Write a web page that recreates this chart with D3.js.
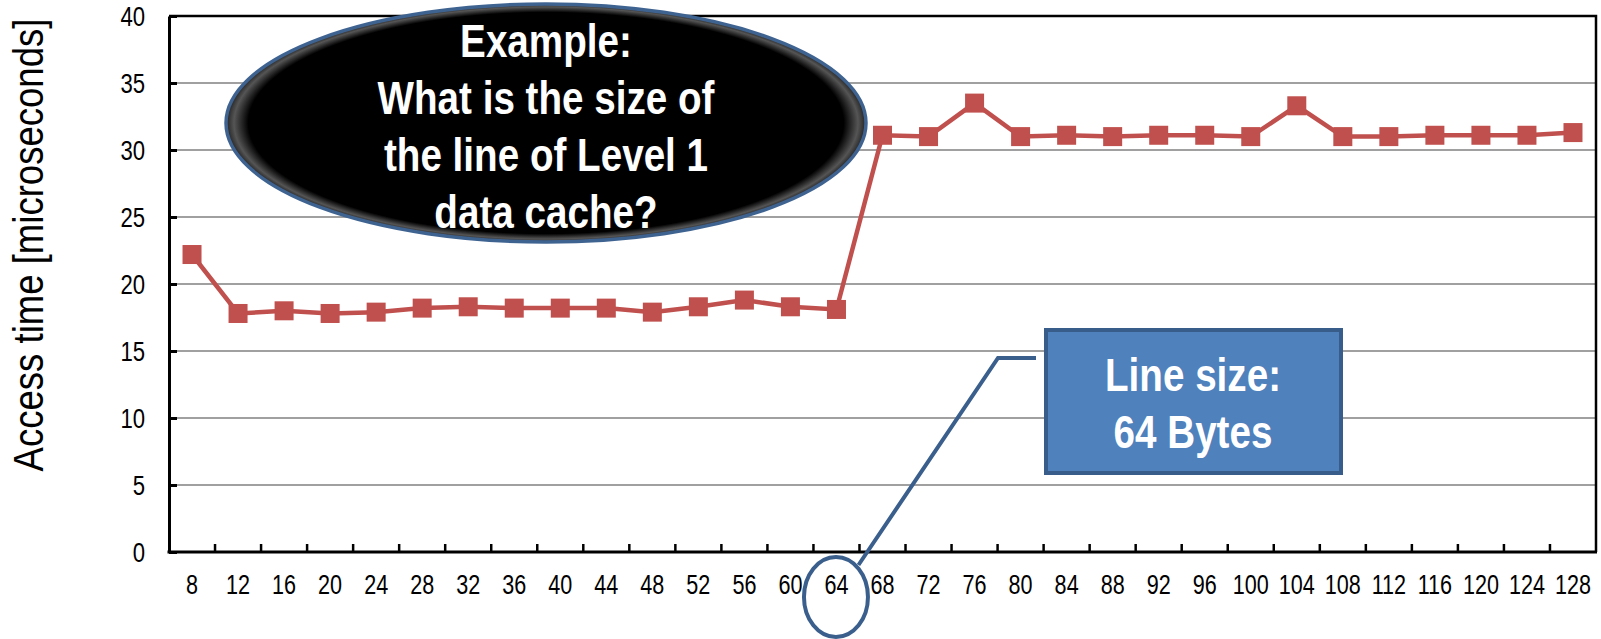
<!DOCTYPE html>
<html>
<head>
<meta charset="utf-8">
<script src="https://cdn.jsdelivr.net/npm/d3@7"></script>
<style>
  body{margin:0;background:#fff;}
  svg{display:block;}
</style>
</head>
<body>
<div id="container"></div>
<script>
let w = 1601;
let h = 639;

// line size in bytes (x categories)
let lineSizes = ["8","12","16","20","24","28","32","36","40","44","48","52","56","60","64",
                 "68","72","76","80","84","88","92","96","100","104","108","112","116","120","124","128"];
// access time in microseconds
let accessTimes = [22.2,17.8,18.0,17.8,17.9,18.2,18.3,18.2,18.2,18.2,17.9,18.3,18.8,18.3,18.1,
                   31.1,31.0,33.5,31.0,31.1,31.0,31.1,31.1,31.0,33.3,31.0,31.0,31.1,31.1,31.1,31.3];
let yTicks = [0,5,10,15,20,25,30,35,40];

let yTitle = "Access time [microseconds]";
let questionLines = ["Example:","What is the size of","the line of Level 1","data cache?"];
let answerLines = ["Line size:","64 Bytes"];
let answerCategory = "64";

// no narrow font installed, so condense Liberation Sans with a scaleX
let font = "'Liberation Sans',Arial,sans-serif";

// move x/y of a text into a transform and squeeze it horizontally
function squeeze(sel, sx){
  sel.each(function(){
    let t = d3.select(this);
    let x = +t.attr("x") || 0;
    let y = +t.attr("y") || 0;
    t.attr("x",0).attr("y",0)
     .attr("transform","translate("+x+","+y+") scale("+sx+",1)");
  });
}

let viz = d3.select("#container")
                .append("svg")
                    .attr("width",w)
                    .attr("height",h)
                    .style("background-color","white")
;

let plotLeft = 169;
let plotRight = 1596;
let plotTop = 16;
let plotBottom = 552;

let xScale = d3.scaleBand().domain(lineSizes).range([plotLeft,plotRight]);
let yScale = d3.scaleLinear().domain([0,40]).range([plotBottom,plotTop]);
let bw = xScale.bandwidth();

let data = lineSizes.map(function(s,i){
  return {size:s, time:accessTimes[i]};
});

// gridlines
viz.append("g").attr("class","grid")
  .selectAll("line").data(yTicks.filter(function(d){return d>0 && d<40;})).enter()
  .append("line")
    .attr("x1",plotLeft).attr("x2",plotRight)
    .attr("y1",function(d){return yScale(d);})
    .attr("y2",function(d){return yScale(d);})
    .attr("stroke","#a0a0a0")
    .attr("stroke-width",2)
;

// top and right frame
viz.append("path")
  .attr("d","M"+plotLeft+","+yScale(40)+"H"+plotRight+"V"+plotBottom)
  .attr("fill","none")
  .attr("stroke","#000")
  .attr("stroke-width",2.5)
;

// y axis
let yAxis = d3.axisLeft(yScale).tickValues(yTicks).tickSizeInner(-8).tickSizeOuter(0).tickPadding(24);
let yAxisG = viz.append("g").attr("class","yaxis")
  .attr("transform","translate("+plotLeft+",0)")
  .call(yAxis);
yAxisG.select(".domain").attr("stroke-width",3);
yAxisG.selectAll(".tick line").attr("stroke-width",3);
yAxisG.selectAll("text")
  .attr("font-family",font)
  .attr("font-size",27)
  .attr("fill","#000")
  .attr("dy","0.36em")
  .call(squeeze,0.82);

// x axis (labels centred in bands, ticks on band edges)
let xAxis = d3.axisBottom(xScale).tickSize(0).tickPadding(0);
let xAxisG = viz.append("g").attr("class","xaxis")
  .attr("transform","translate(0,"+plotBottom+")")
  .call(xAxis);
xAxisG.select(".domain").remove();
xAxisG.selectAll("text")
  .attr("font-family",font)
  .attr("font-size",27)
  .attr("fill","#000")
  .attr("y",42)
  .attr("dy",0)
  .call(squeeze,0.8);

viz.append("g").attr("class","xticks")
  .selectAll("line").data(lineSizes.slice(1)).enter()
  .append("line")
    .attr("x1",function(d){return xScale(d);})
    .attr("x2",function(d){return xScale(d);})
    .attr("y1",plotBottom).attr("y2",plotBottom-8)
    .attr("stroke","#000").attr("stroke-width",2.5)
;
viz.append("line")
  .attr("x1",plotLeft-1.5).attr("x2",plotRight+1)
  .attr("y1",plotBottom).attr("y2",plotBottom)
  .attr("stroke","#000").attr("stroke-width",3)
;

// y title
viz.append("text")
  .attr("transform","translate(43,245) rotate(-90) scale(0.85,1)")
  .attr("text-anchor","middle")
  .attr("font-family",font)
  .attr("font-size",43)
  .attr("fill","#000")
  .text(yTitle)
;

// series
let lineMaker = d3.line()
  .x(function(d){return xScale(d.size)+bw/2;})
  .y(function(d){return yScale(d.time);});

viz.append("path")
  .datum(data)
  .attr("d",lineMaker)
  .attr("fill","none")
  .attr("stroke","#c0504d")
  .attr("stroke-width",4.5)
;

let ms = 19;
viz.selectAll(".marker").data(data).enter()
  .append("rect")
    .attr("class","marker")
    .attr("x",function(d){return xScale(d.size)+bw/2-ms/2;})
    .attr("y",function(d){return yScale(d.time)-ms/2;})
    .attr("width",ms).attr("height",ms)
    .attr("fill","#c0504d")
;

// question bubble
let defs = viz.append("defs");
let grad = defs.append("radialGradient").attr("id","bubble");
grad.append("stop").attr("offset","0%").attr("stop-color","#000");
grad.append("stop").attr("offset","93%").attr("stop-color","#000");
grad.append("stop").attr("offset","97.5%").attr("stop-color","#555");
grad.append("stop").attr("offset","100%").attr("stop-color","#222");

let bubble = viz.append("g").attr("class","bubble");
bubble.append("ellipse")
  .attr("cx",546).attr("cy",123).attr("rx",320).attr("ry",119)
  .attr("fill","url(#bubble)")
  .attr("stroke","#3f6391")
  .attr("stroke-width",3.5)
;
bubble.selectAll("text").data(questionLines).enter()
  .append("text")
    .attr("x",546)
    .attr("y",function(d,i){return 57+i*57;})
    .attr("text-anchor","middle")
    .attr("font-family",font)
    .attr("font-weight","bold")
    .attr("font-size",46)
    .attr("fill","#fff")
    .text(function(d){return d;})
    .call(squeeze,0.84)
;

// answer box and pointer to the 64 label
let cx64 = xScale(answerCategory)+bw/2;
viz.append("ellipse")
  .attr("cx",cx64-0.5).attr("cy",597).attr("rx",32).attr("ry",40)
  .attr("fill","none")
  .attr("stroke","#3b5f8c")
  .attr("stroke-width",4)
;
viz.append("path")
  .attr("d","M"+(cx64+22)+",565 L998,358 H1036")
  .attr("fill","none")
  .attr("stroke","#3b5f8c")
  .attr("stroke-width",4)
;
viz.append("rect")
  .attr("x",1046).attr("y",330).attr("width",295).attr("height",143)
  .attr("fill","#4f81bd")
  .attr("stroke","#385d8a")
  .attr("stroke-width",4)
;
viz.selectAll(".answer").data(answerLines).enter()
  .append("text")
    .attr("class","answer")
    .attr("x",1193)
    .attr("y",function(d,i){return 391+i*57;})
    .attr("text-anchor","middle")
    .attr("font-family",font)
    .attr("font-weight","bold")
    .attr("font-size",46)
    .attr("fill","#fff")
    .text(function(d){return d;})
    .call(squeeze,0.84)
;
</script>
</body>
</html>
